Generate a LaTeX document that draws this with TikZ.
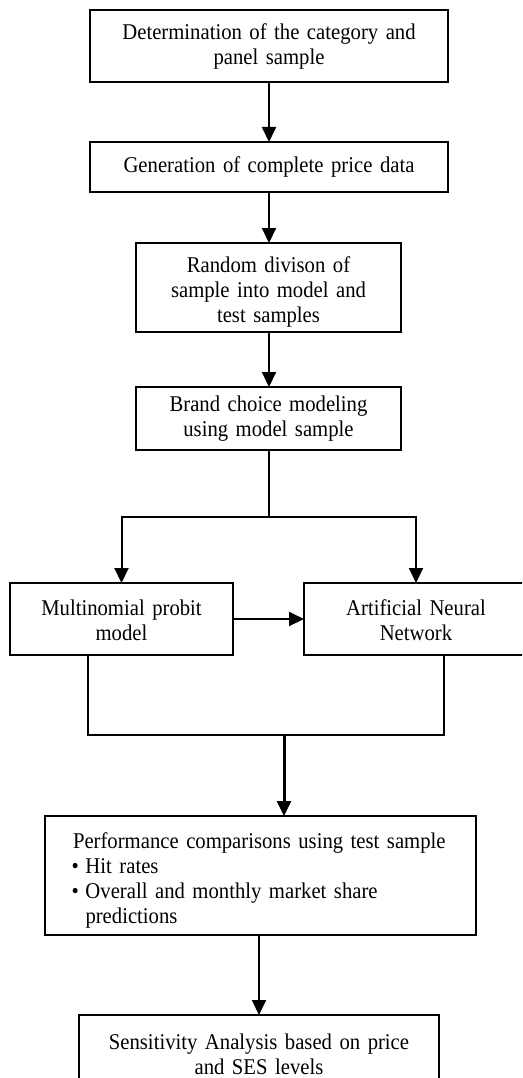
\documentclass[tikz,border=0pt]{standalone}
\usepackage{fontspec}
\setmainfont[FakeStretch=0.92,WordSpace=1.4]{Liberation Serif}
\usetikzlibrary{arrows.meta}
\begin{document}
\begin{tikzpicture}[x=1pt,y=-1pt,
  box/.style={draw,line width=2pt,rectangle,inner sep=0pt,outer sep=0pt,align=center,
    font=\fontsize{22.5}{25}\selectfont},
  conn/.style={line width=2pt},
  arr/.style={line width=2pt,-{Triangle[length=15pt,width=14pt]}}]
\path[use as bounding box] (0,0) rectangle (522,1078);
\clip (0,0) rectangle (522,1078);
\fill[white] (0,0) rectangle (522,1078);

\node[box,minimum width=358pt,minimum height=72pt,text width=345pt] (b1) at (269,46)
  {\rule{0pt}{17.5pt}Determination of the category and\\panel sample};
\node[box,minimum width=358pt,minimum height=50pt,text width=345pt] (b2) at (269,167)
  {Generation of complete price data};
\node[box,minimum width=265pt,minimum height=89pt,text width=255pt] (b3) at (268.5,287.5)
  {\rule{0pt}{25.5pt}Random divison of\\sample into model and\\test samples};
\node[box,minimum width=265pt,minimum height=63pt,text width=255pt] (b4) at (268.5,418.5)
  {Brand choice modeling\\using model sample};
\node[box,minimum width=223pt,minimum height=72pt,text width=215pt] (mnp) at (121.5,619)
  {\rule{0pt}{18pt}Multinomial probit\\model};
\node[box,minimum width=224pt,minimum height=72pt,text width=215pt] (ann) at (416,619)
  {\rule{0pt}{18pt}Artificial Neural\\Network};
\node[box,minimum width=431pt,minimum height=119pt,text width=378pt,align=left] (perf) at (260.5,875.5)
  {\rule{0pt}{25.5pt}\hspace*{1.5pt}Performance comparisons using test sample\\
   \makebox[14pt][l]{\textbullet}Hit rates\\
   \makebox[14pt][l]{\textbullet}Overall and monthly market share\\
   \hspace*{14pt}predictions};
\node[box,minimum width=360pt,minimum height=75pt,text width=350pt] (sens) at (259,1052.5)
  {\rule{0pt}{20pt}Sensitivity Analysis based on price\\and SES levels};

\coordinate (split) at (268.5,517);
\coordinate (merge) at (284,735);

\draw[arr] (b1.south) -- (b2.north);
\draw[arr] (b2.south) -- (b2.south |- b3.north);
\draw[arr] (b2.south |- b3.south) -- (b2.south |- b4.north);
\draw[conn] (b4.south) -- (split);
\draw[arr] (split) -| (mnp.north);
\draw[arr] (split) -| (ann.north);
\draw[arr] (mnp.east) -- (ann.west);
\draw[conn] ([xshift=78pt]mnp.south west) |- (merge);
\draw[conn] ([xshift=-84pt]ann.south east) |- (merge);
\draw[arr,line width=3pt] (merge) -- (merge |- perf.north);
\draw[arr] (sens.north |- perf.south) -- (sens.north);
\end{tikzpicture}
\end{document}
